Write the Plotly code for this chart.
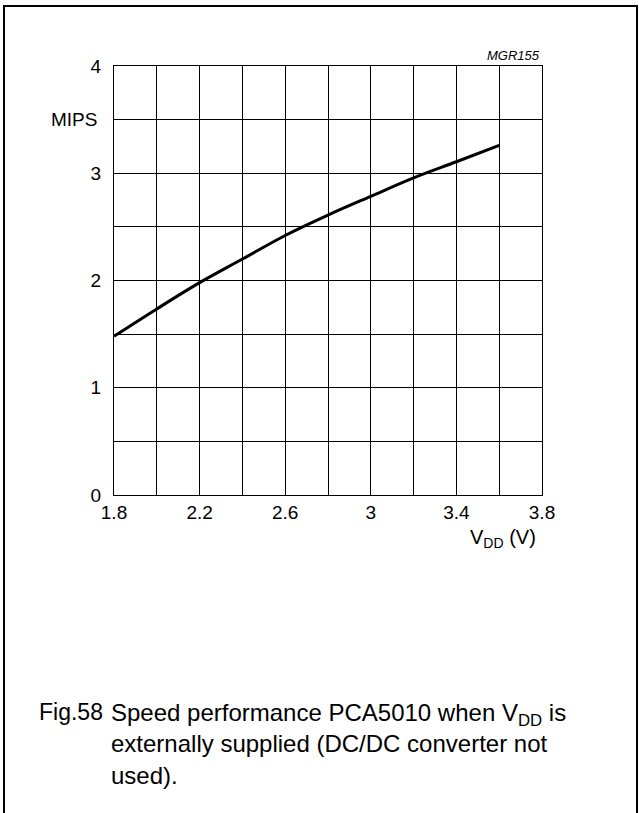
import plotly.graph_objects as go

vdd = [1.8, 2.0, 2.2, 2.4, 2.6, 2.8, 3.0, 3.2, 3.4, 3.6]
mips = [1.48, 1.735, 1.98, 2.2, 2.42, 2.61, 2.785, 2.957, 3.107, 3.26]
x_ticks = [1.8, 2.2, 2.6, 3.0, 3.4, 3.8]
x_ticktext = ["1.8", "2.2", "2.6", "3", "3.4", "3.8"]
y_ticks = [0, 1, 2, 3, 4]

W, H = 639, 813
L, R, T, B = 114, 542, 66, 495

def xp(px):
    return (px - L) / (R - L)

def yp(py):
    return (B - py) / (B - T)

FONT = "Liberation Sans, Arial, sans-serif"

fig = go.Figure()
fig.add_trace(go.Scatter(x=vdd, y=mips, mode="lines",
                         line=dict(color="black", width=3, shape="spline"),
                         showlegend=False, hoverinfo="skip"))

fig.update_layout(
    width=W, height=H,
    margin=dict(l=L, r=W - R, t=T, b=H - B, pad=0),
    paper_bgcolor="white", plot_bgcolor="white",
    font=dict(family=FONT, size=19, color="black"),
    xaxis=dict(range=[1.8, 3.8], tickvals=x_ticks, ticktext=x_ticktext,
               showgrid=True, gridcolor="black", gridwidth=1,
               showline=True, linecolor="black", linewidth=1, mirror=True,
               ticks="", ticklabelstandoff=0, zeroline=False,
               minor=dict(showgrid=True, gridcolor="black", gridwidth=1, dtick=0.2, tick0=1.8)),
    yaxis=dict(range=[0, 4], tickvals=y_ticks,
               showgrid=True, gridcolor="black", gridwidth=1,
               showline=True, linecolor="black", linewidth=1, mirror=True,
               ticks="", ticklabelstandoff=8, zeroline=False,
               minor=dict(showgrid=True, gridcolor="black", gridwidth=1, dtick=0.5, tick0=0)),
)

ann = []
ann.append(dict(text="<i>MGR155</i>", x=1.0, y=yp(55), xref="paper", yref="paper",
                xanchor="right", yanchor="middle", showarrow=False, font=dict(size=13)))
ann.append(dict(text="MIPS", x=xp(99), y=3.5, xref="paper", yref="y",
                xanchor="right", yanchor="middle", showarrow=False, font=dict(size=19)))
ann.append(dict(text="V<sub>DD</sub> (V)", x=xp(468), y=yp(538), xref="paper", yref="paper",
                xanchor="left", yanchor="middle", showarrow=False, font=dict(size=20)))
ann.append(dict(text="Fig.58", x=xp(37), y=yp(712), xref="paper", yref="paper",
                xanchor="left", yanchor="middle", showarrow=False, font=dict(size=23)))
ann.append(dict(text="Speed performance PCA5010 when V<sub>DD</sub> is", x=xp(109), y=yp(714),
                xref="paper", yref="paper", xanchor="left", yanchor="middle",
                showarrow=False, font=dict(size=24)))
ann.append(dict(text="externally supplied (DC/DC converter not", x=xp(109), y=yp(743.5),
                xref="paper", yref="paper", xanchor="left", yanchor="middle",
                showarrow=False, font=dict(size=24)))
ann.append(dict(text="used).", x=xp(109), y=yp(775.5),
                xref="paper", yref="paper", xanchor="left", yanchor="middle",
                showarrow=False, font=dict(size=24)))
fig.update_layout(annotations=ann)

# outer frame (left, top, right)
fig.add_shape(type="path",
              path=f"M {xp(4)} {yp(830)} L {xp(4)} {yp(6)} L {xp(637)} {yp(6)} L {xp(637)} {yp(830)}",
              xref="paper", yref="paper", line=dict(color="black", width=2))

fig.write_html("out.html", config={"displayModeBar": False},
               post_script="document.body.style.margin='0';")
